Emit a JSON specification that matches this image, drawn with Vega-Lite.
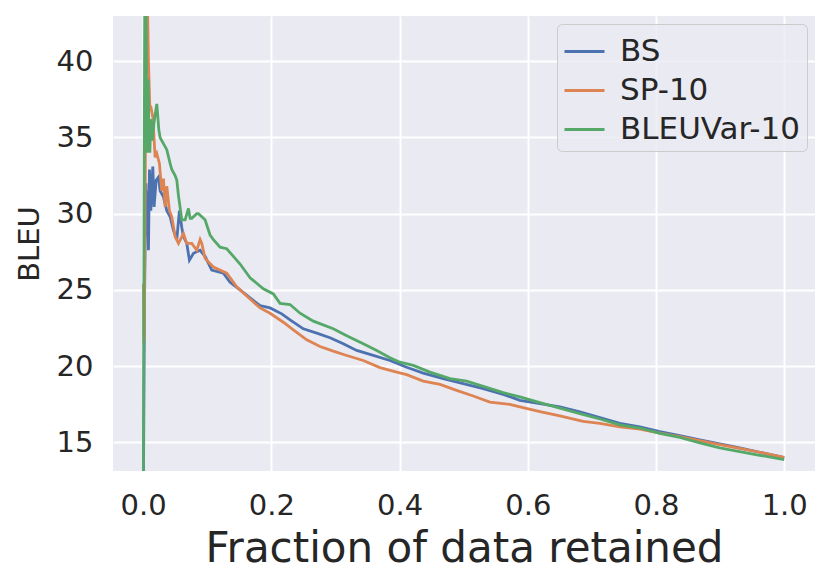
{
  "$schema": "https://vega.github.io/schema/vega-lite/v6.json",
  "width": 702,
  "height": 455,
  "autosize": {"type": "none"},
  "padding": {"left": 113, "top": 16, "right": 16, "bottom": 114},
  "background": "white",
  "config": {"view": {"fill": "#EAEAF2", "stroke": null}, "font": "DejaVu Sans"},
  "data": {
    "values": [
      {"x":0.0005,"bleu":12.0,"method":"BS"},{"x":0.0015,"bleu":20.5,"method":"BS"},{"x":0.0025,"bleu":26.0,"method":"BS"},{"x":0.0035,"bleu":29.5,"method":"BS"},{"x":0.0045,"bleu":32.0,"method":"BS"},{"x":0.0055,"bleu":28.5,"method":"BS"},{"x":0.0065,"bleu":31.5,"method":"BS"},{"x":0.0083,"bleu":27.6,"method":"BS"},{"x":0.0099,"bleu":32.9,"method":"BS"},{"x":0.012,"bleu":30.2,"method":"BS"},{"x":0.0151,"bleu":33.1,"method":"BS"},{"x":0.0171,"bleu":30.45,"method":"BS"},{"x":0.0203,"bleu":32.2,"method":"BS"},{"x":0.0239,"bleu":32.4,"method":"BS"},{"x":0.0265,"bleu":31.5,"method":"BS"},{"x":0.0317,"bleu":31.1,"method":"BS"},{"x":0.0369,"bleu":30.2,"method":"BS"},{"x":0.0421,"bleu":29.8,"method":"BS"},{"x":0.0473,"bleu":28.9,"method":"BS"},{"x":0.0525,"bleu":28.3,"method":"BS"},{"x":0.0566,"bleu":30.2,"method":"BS"},{"x":0.0603,"bleu":29.1,"method":"BS"},{"x":0.0629,"bleu":28.5,"method":"BS"},{"x":0.0681,"bleu":28.05,"method":"BS"},{"x":0.0722,"bleu":26.95,"method":"BS"},{"x":0.0785,"bleu":27.4,"method":"BS"},{"x":0.0889,"bleu":27.6,"method":"BS"},{"x":0.0966,"bleu":27.2,"method":"BS"},{"x":0.107,"bleu":26.3,"method":"BS"},{"x":0.1252,"bleu":26.1,"method":"BS"},{"x":0.1356,"bleu":25.5,"method":"BS"},{"x":0.1512,"bleu":25.0,"method":"BS"},{"x":0.1668,"bleu":24.48,"method":"BS"},{"x":0.1824,"bleu":23.97,"method":"BS"},{"x":0.198,"bleu":23.82,"method":"BS"},{"x":0.2162,"bleu":23.43,"method":"BS"},{"x":0.2292,"bleu":23.04,"method":"BS"},{"x":0.2499,"bleu":22.45,"method":"BS"},{"x":0.2708,"bleu":22.16,"method":"BS"},{"x":0.2915,"bleu":21.86,"method":"BS"},{"x":0.3122,"bleu":21.47,"method":"BS"},{"x":0.3331,"bleu":21.03,"method":"BS"},{"x":0.359,"bleu":20.7,"method":"BS"},{"x":0.385,"bleu":20.37,"method":"BS"},{"x":0.4111,"bleu":19.93,"method":"BS"},{"x":0.4369,"bleu":19.54,"method":"BS"},{"x":0.4681,"bleu":19.18,"method":"BS"},{"x":0.4993,"bleu":18.85,"method":"BS"},{"x":0.5305,"bleu":18.52,"method":"BS"},{"x":0.5617,"bleu":18.15,"method":"BS"},{"x":0.5877,"bleu":17.76,"method":"BS"},{"x":0.6189,"bleu":17.54,"method":"BS"},{"x":0.65,"bleu":17.33,"method":"BS"},{"x":0.6812,"bleu":17.0,"method":"BS"},{"x":0.7124,"bleu":16.63,"method":"BS"},{"x":0.7436,"bleu":16.24,"method":"BS"},{"x":0.7748,"bleu":16.02,"method":"BS"},{"x":0.8059,"bleu":15.7,"method":"BS"},{"x":0.8371,"bleu":15.44,"method":"BS"},{"x":0.8683,"bleu":15.16,"method":"BS"},{"x":0.8994,"bleu":14.9,"method":"BS"},{"x":0.9306,"bleu":14.64,"method":"BS"},{"x":0.9618,"bleu":14.35,"method":"BS"},{"x":1.0,"bleu":13.99,"method":"BS"},

      {"x":0.0005,"bleu":25.4,"method":"SP-10"},{"x":0.001,"bleu":21.5,"method":"SP-10"},{"x":0.002,"bleu":22.0,"method":"SP-10"},{"x":0.003,"bleu":30.0,"method":"SP-10"},{"x":0.004,"bleu":38.0,"method":"SP-10"},{"x":0.005,"bleu":44.5,"method":"SP-10"},{"x":0.0065,"bleu":44.5,"method":"SP-10"},{"x":0.0083,"bleu":40.0,"method":"SP-10"},{"x":0.0104,"bleu":37.0,"method":"SP-10"},{"x":0.012,"bleu":37.0,"method":"SP-10"},{"x":0.0151,"bleu":36.35,"method":"SP-10"},{"x":0.0187,"bleu":33.7,"method":"SP-10"},{"x":0.0213,"bleu":33.95,"method":"SP-10"},{"x":0.0254,"bleu":33.3,"method":"SP-10"},{"x":0.029,"bleu":31.5,"method":"SP-10"},{"x":0.0317,"bleu":32.3,"method":"SP-10"},{"x":0.0343,"bleu":30.45,"method":"SP-10"},{"x":0.0369,"bleu":31.8,"method":"SP-10"},{"x":0.041,"bleu":30.2,"method":"SP-10"},{"x":0.0447,"bleu":29.8,"method":"SP-10"},{"x":0.0499,"bleu":28.5,"method":"SP-10"},{"x":0.0551,"bleu":28.05,"method":"SP-10"},{"x":0.0629,"bleu":28.7,"method":"SP-10"},{"x":0.0681,"bleu":28.05,"method":"SP-10"},{"x":0.0759,"bleu":28.05,"method":"SP-10"},{"x":0.0837,"bleu":27.6,"method":"SP-10"},{"x":0.0889,"bleu":28.3,"method":"SP-10"},{"x":0.0915,"bleu":28.05,"method":"SP-10"},{"x":0.0966,"bleu":27.07,"method":"SP-10"},{"x":0.1096,"bleu":26.5,"method":"SP-10"},{"x":0.1304,"bleu":26.1,"method":"SP-10"},{"x":0.146,"bleu":25.2,"method":"SP-10"},{"x":0.1668,"bleu":24.4,"method":"SP-10"},{"x":0.1824,"bleu":23.82,"method":"SP-10"},{"x":0.198,"bleu":23.47,"method":"SP-10"},{"x":0.2187,"bleu":22.88,"method":"SP-10"},{"x":0.2343,"bleu":22.38,"method":"SP-10"},{"x":0.2552,"bleu":21.73,"method":"SP-10"},{"x":0.2759,"bleu":21.29,"method":"SP-10"},{"x":0.2966,"bleu":20.98,"method":"SP-10"},{"x":0.3175,"bleu":20.7,"method":"SP-10"},{"x":0.3434,"bleu":20.37,"method":"SP-10"},{"x":0.3694,"bleu":19.9,"method":"SP-10"},{"x":0.3955,"bleu":19.61,"method":"SP-10"},{"x":0.4111,"bleu":19.44,"method":"SP-10"},{"x":0.4369,"bleu":19.02,"method":"SP-10"},{"x":0.463,"bleu":18.8,"method":"SP-10"},{"x":0.489,"bleu":18.41,"method":"SP-10"},{"x":0.5149,"bleu":18.04,"method":"SP-10"},{"x":0.5409,"bleu":17.64,"method":"SP-10"},{"x":0.5721,"bleu":17.49,"method":"SP-10"},{"x":0.5877,"bleu":17.33,"method":"SP-10"},{"x":0.6189,"bleu":17.02,"method":"SP-10"},{"x":0.65,"bleu":16.74,"method":"SP-10"},{"x":0.6864,"bleu":16.37,"method":"SP-10"},{"x":0.7124,"bleu":16.24,"method":"SP-10"},{"x":0.7436,"bleu":16.02,"method":"SP-10"},{"x":0.7748,"bleu":15.87,"method":"SP-10"},{"x":0.8059,"bleu":15.61,"method":"SP-10"},{"x":0.8371,"bleu":15.37,"method":"SP-10"},{"x":0.8683,"bleu":15.11,"method":"SP-10"},{"x":0.8994,"bleu":14.85,"method":"SP-10"},{"x":0.9306,"bleu":14.61,"method":"SP-10"},{"x":0.9618,"bleu":14.35,"method":"SP-10"},{"x":1.0,"bleu":14.02,"method":"SP-10"},

      {"x":0.0005,"bleu":12.0,"method":"BLEUVar-10"},{"x":0.0015,"bleu":30.0,"method":"BLEUVar-10"},{"x":0.0025,"bleu":44.5,"method":"BLEUVar-10"},{"x":0.0045,"bleu":44.5,"method":"BLEUVar-10"},{"x":0.0055,"bleu":36.0,"method":"BLEUVar-10"},{"x":0.0065,"bleu":34.0,"method":"BLEUVar-10"},{"x":0.0078,"bleu":38.8,"method":"BLEUVar-10"},{"x":0.009,"bleu":35.5,"method":"BLEUVar-10"},{"x":0.0105,"bleu":34.0,"method":"BLEUVar-10"},{"x":0.012,"bleu":36.2,"method":"BLEUVar-10"},{"x":0.014,"bleu":34.8,"method":"BLEUVar-10"},{"x":0.017,"bleu":36.0,"method":"BLEUVar-10"},{"x":0.0213,"bleu":37.2,"method":"BLEUVar-10"},{"x":0.0245,"bleu":35.5,"method":"BLEUVar-10"},{"x":0.0265,"bleu":35.0,"method":"BLEUVar-10"},{"x":0.029,"bleu":34.8,"method":"BLEUVar-10"},{"x":0.0317,"bleu":34.6,"method":"BLEUVar-10"},{"x":0.0369,"bleu":34.2,"method":"BLEUVar-10"},{"x":0.0421,"bleu":33.3,"method":"BLEUVar-10"},{"x":0.0447,"bleu":32.9,"method":"BLEUVar-10"},{"x":0.0499,"bleu":32.5,"method":"BLEUVar-10"},{"x":0.0525,"bleu":32.2,"method":"BLEUVar-10"},{"x":0.0551,"bleu":31.2,"method":"BLEUVar-10"},{"x":0.0603,"bleu":29.6,"method":"BLEUVar-10"},{"x":0.0655,"bleu":29.6,"method":"BLEUVar-10"},{"x":0.0707,"bleu":30.35,"method":"BLEUVar-10"},{"x":0.0733,"bleu":29.7,"method":"BLEUVar-10"},{"x":0.0759,"bleu":29.7,"method":"BLEUVar-10"},{"x":0.0837,"bleu":30.0,"method":"BLEUVar-10"},{"x":0.0863,"bleu":30.0,"method":"BLEUVar-10"},{"x":0.0915,"bleu":29.8,"method":"BLEUVar-10"},{"x":0.0966,"bleu":29.6,"method":"BLEUVar-10"},{"x":0.1044,"bleu":28.6,"method":"BLEUVar-10"},{"x":0.1096,"bleu":28.3,"method":"BLEUVar-10"},{"x":0.12,"bleu":27.8,"method":"BLEUVar-10"},{"x":0.1304,"bleu":27.7,"method":"BLEUVar-10"},{"x":0.1408,"bleu":27.2,"method":"BLEUVar-10"},{"x":0.1512,"bleu":26.7,"method":"BLEUVar-10"},{"x":0.1668,"bleu":25.8,"method":"BLEUVar-10"},{"x":0.1875,"bleu":25.07,"method":"BLEUVar-10"},{"x":0.2031,"bleu":24.74,"method":"BLEUVar-10"},{"x":0.2136,"bleu":24.12,"method":"BLEUVar-10"},{"x":0.2292,"bleu":24.04,"method":"BLEUVar-10"},{"x":0.2447,"bleu":23.47,"method":"BLEUVar-10"},{"x":0.2655,"bleu":22.95,"method":"BLEUVar-10"},{"x":0.2966,"bleu":22.45,"method":"BLEUVar-10"},{"x":0.3175,"bleu":22.0,"method":"BLEUVar-10"},{"x":0.3434,"bleu":21.47,"method":"BLEUVar-10"},{"x":0.3643,"bleu":21.03,"method":"BLEUVar-10"},{"x":0.385,"bleu":20.55,"method":"BLEUVar-10"},{"x":0.4006,"bleu":20.26,"method":"BLEUVar-10"},{"x":0.4214,"bleu":20.05,"method":"BLEUVar-10"},{"x":0.4474,"bleu":19.61,"method":"BLEUVar-10"},{"x":0.4786,"bleu":19.18,"method":"BLEUVar-10"},{"x":0.5046,"bleu":19.02,"method":"BLEUVar-10"},{"x":0.5305,"bleu":18.67,"method":"BLEUVar-10"},{"x":0.5617,"bleu":18.26,"method":"BLEUVar-10"},{"x":0.5877,"bleu":17.98,"method":"BLEUVar-10"},{"x":0.6189,"bleu":17.61,"method":"BLEUVar-10"},{"x":0.65,"bleu":17.24,"method":"BLEUVar-10"},{"x":0.6812,"bleu":16.89,"method":"BLEUVar-10"},{"x":0.7124,"bleu":16.53,"method":"BLEUVar-10"},{"x":0.7436,"bleu":16.15,"method":"BLEUVar-10"},{"x":0.7748,"bleu":15.94,"method":"BLEUVar-10"},{"x":0.8059,"bleu":15.59,"method":"BLEUVar-10"},{"x":0.8371,"bleu":15.33,"method":"BLEUVar-10"},{"x":0.8683,"bleu":14.96,"method":"BLEUVar-10"},{"x":0.8994,"bleu":14.64,"method":"BLEUVar-10"},{"x":0.9306,"bleu":14.39,"method":"BLEUVar-10"},{"x":0.9618,"bleu":14.15,"method":"BLEUVar-10"},{"x":1.0,"bleu":13.87,"method":"BLEUVar-10"}
    ]
  },
  "mark": {"type": "line", "clip": true, "strokeWidth": 2.8},
  "encoding": {
    "x": {
      "field": "x", "type": "quantitative",
      "scale": {"domain": [-0.047, 1.048], "nice": false, "zero": false},
      "axis": {
        "title": "Fraction of data retained",
        "values": [0, 0.2, 0.4, 0.6, 0.8, 1.0],
        "format": ".1f",
        "labelFont": "DejaVu Sans", "labelFontSize": 29, "labelColor": "#262626",
        "labelPadding": 20, "labelFlush": false, "labelOverlap": false,
        "titleFont": "DejaVu Sans", "titleFontSize": 42, "titleFontWeight": "normal", "titleColor": "#262626",
        "titlePadding": 8,
        "tickSize": 0, "ticks": false, "domain": false,
        "grid": true, "gridColor": "#FFFFFF", "gridWidth": 2, "gridOpacity": 1
      }
    },
    "y": {
      "field": "bleu", "type": "quantitative",
      "scale": {"domain": [13.12, 42.97], "nice": false, "zero": false},
      "axis": {
        "title": "BLEU",
        "values": [15, 20, 25, 30, 35, 40],
        "labelFont": "DejaVu Sans", "labelFontSize": 29, "labelColor": "#262626",
        "labelPadding": 20, "labelFlush": false, "labelOverlap": false,
        "titleFont": "DejaVu Sans", "titleFontSize": 29, "titleFontWeight": "normal", "titleColor": "#262626",
        "titlePadding": 12,
        "tickSize": 0, "ticks": false, "domain": false,
        "grid": true, "gridColor": "#FFFFFF", "gridWidth": 2, "gridOpacity": 1
      }
    },
    "color": {
      "field": "method", "type": "nominal",
      "scale": {"domain": ["BS", "SP-10", "BLEUVar-10"], "range": ["#4C72B0", "#DD8452", "#55A868"]},
      "legend": {
        "title": null, "orient": "top-right", "offset": 8,
        "symbolType": "stroke", "symbolSize": 1600, "symbolStrokeWidth": 2.8,
        "labelFont": "DejaVu Sans", "labelFontSize": 31, "labelColor": "#262626",
        "labelOffset": 14, "labelLimit": 400,
        "fillColor": "rgba(234,234,242,0.8)", "strokeColor": "#CCCCCC", "cornerRadius": 5,
        "padding": 6, "rowPadding": 2
      }
    }
  }
}
